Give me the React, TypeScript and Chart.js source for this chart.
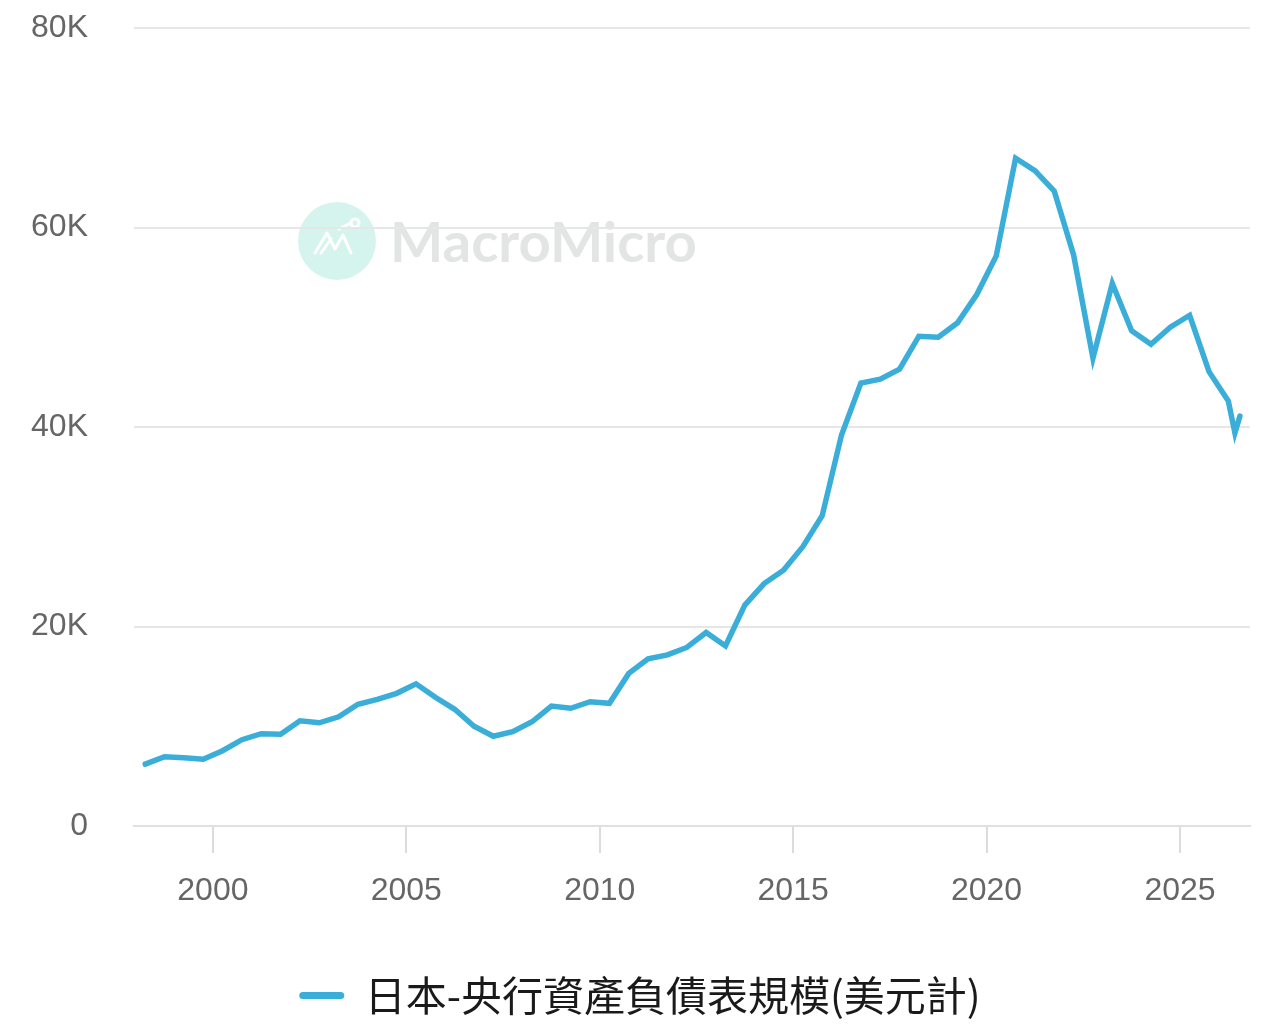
import React, { useEffect, useRef } from "react";
import { Chart, registerables } from "chart.js";

Chart.register(...registerables);

// x positions in decimal years
const xYears = [
  1998.25, 1998.75, 1999.25, 1999.75, 2000.25, 2000.75, 2001.25, 2001.75,
  2002.25, 2002.75, 2003.25, 2003.75, 2004.25, 2004.75, 2005.25, 2005.75,
  2006.25, 2006.75, 2007.25, 2007.75, 2008.25, 2008.75, 2009.25, 2009.75,
  2010.25, 2010.75, 2011.25, 2011.75, 2012.25, 2012.75, 2013.25, 2013.75,
  2014.25, 2014.75, 2015.25, 2015.75, 2016.25, 2016.75, 2017.25, 2017.75,
  2018.25, 2018.75, 2019.25, 2019.75, 2020.25, 2020.75, 2021.25, 2021.75,
  2022.25, 2022.75, 2023.25, 2023.75, 2024.25, 2024.75, 2025.25, 2025.75,
  2026.25, 2026.42, 2026.55,
];

// Japan central bank balance sheet size (USD)
const balanceSheet = [
  6200, 6950, 6850, 6700, 7550, 8650, 9250, 9200,
  10550, 10350, 10950, 12200, 12700, 13300, 14250, 12900,
  11700, 10000, 9000, 9450, 10450, 12030, 11800, 12460,
  12300, 15300, 16750, 17150, 17900, 19400, 18050, 22150,
  24300, 25650, 28000, 31100, 39200, 44400, 44800, 45800,
  49100, 49000, 50450, 53300, 57150, 66950, 65700, 63650,
  57250, 46900, 54400, 49650, 48300, 50000, 51200, 45550,
  42600, 39400, 41100,
];

const xTickYears = [2000, 2005, 2010, 2015, 2020, 2025];
const yTickValues = [0, 20000, 40000, 60000, 80000];
const seriesLabel = "日本-央行資產負債表規模(美元計)";
const watermarkText = "MacroMicro";

const LINE_COLOR = "#3aaed9";
const TICK_FONT = "'Liberation Sans', Arial, Helvetica, sans-serif";

const watermarkPlugin = {
  id: "watermark",
  beforeDraw(chart: any) {
    const ctx = chart.ctx;
    ctx.save();
    // circle logo
    const cx = 337, cy = 241, r = 39;
    ctx.fillStyle = "#d6f4ee";
    ctx.beginPath();
    ctx.arc(cx, cy, r, 0, Math.PI * 2);
    ctx.fill();
    ctx.strokeStyle = "#ffffff";
    ctx.lineWidth = 3;
    ctx.lineJoin = "round";
    ctx.lineCap = "round";
    ctx.beginPath();
    ctx.moveTo(cx - 22, cy + 12);
    ctx.lineTo(cx - 10, cy - 8);
    ctx.lineTo(cx - 2, cy + 8);
    ctx.lineTo(cx + 6, cy - 6);
    ctx.lineTo(cx + 14, cy + 12);
    ctx.stroke();
    ctx.beginPath();
    ctx.moveTo(cx - 16, cy + 12);
    ctx.lineTo(cx - 6, cy - 2);
    ctx.stroke();
    ctx.beginPath();
    ctx.moveTo(cx + 2, cy - 12);
    ctx.lineTo(cx + 14, cy - 18);
    ctx.stroke();
    ctx.beginPath();
    ctx.arc(cx + 18, cy - 18, 4, 0, Math.PI * 2);
    ctx.stroke();
    // text
    ctx.fillStyle = "#e3e5e5";
    ctx.textBaseline = "alphabetic";
    ctx.textAlign = "left";
    ctx.font = "bold 100px Lato, 'Open Sans', sans-serif";
    const w100 = ctx.measureText(watermarkText).width;
    const size = (307 / w100) * 100;
    ctx.font = `bold ${size}px Lato, 'Open Sans', sans-serif`;
    ctx.fillText(watermarkText, 390, 262);
    ctx.restore();
  },
};

export default function App() {
  const canvasRef = useRef<HTMLCanvasElement | null>(null);

  useEffect(() => {
    if (!canvasRef.current) return;
    const data = xYears.map((x, i) => ({ x, y: balanceSheet[i] }));
    const chart = new Chart(canvasRef.current, {
      type: "line",
      data: {
        datasets: [
          {
            label: seriesLabel,
            data,
            borderColor: LINE_COLOR,
            backgroundColor: LINE_COLOR,
            borderWidth: 5.5,
            pointRadius: 0,
            pointHoverRadius: 0,
            tension: 0,
            borderCapStyle: "round",
            fill: false,
          },
        ],
      },
      options: {
        animation: false,
        responsive: true,
        maintainAspectRatio: false,
        devicePixelRatio: 1,
        layout: { padding: { left: 30, right: 30, top: 28, bottom: 0 } },
        plugins: {
          tooltip: { enabled: false },
          legend: {
            position: "bottom",
            labels: {
              boxWidth: 45,
              boxHeight: 7,
              padding: 10,
              color: "#1a1a1a",
              font: { size: 41, family: "'Noto Sans CJK TC', 'Noto Sans', sans-serif" },
              generateLabels: (chart: any) =>
                chart.data.datasets.map((ds: any, i: number) => ({
                  text: ds.label,
                  fillStyle: ds.borderColor,
                  strokeStyle: ds.borderColor,
                  lineWidth: 0,
                  hidden: false,
                  datasetIndex: i,
                  borderRadius: 3.5,
                  fontColor: "#1a1a1a",
                })),
              useBorderRadius: true,
            },
          },
        },
        scales: {
          x: {
            type: "linear",
            min: 1997.96,
            max: 2026.81,
            afterBuildTicks: (scale: any) => {
              scale.ticks = xTickYears.map((v) => ({ value: v }));
            },
            afterFit: (scale: any) => {
              scale.height = 139;
            },
            ticks: {
              color: "#666666",
              font: { size: 32, family: TICK_FONT },
              padding: 19,
              maxRotation: 0,
              autoSkip: false,
              callback: (v: any) => String(v),
            },
            grid: {
              display: true,
              drawOnChartArea: false,
              drawTicks: true,
              tickLength: 27,
              color: "#dcdcdc",
              lineWidth: 2,
            },
            border: { display: true, color: "#e0e0e0", width: 2 },
          },
          y: {
            min: 0,
            max: 80000,
            afterBuildTicks: (scale: any) => {
              scale.ticks = yTickValues.map((v) => ({ value: v }));
            },
            afterFit: (scale: any) => {
              scale.width = 104;
              scale.paddingTop = 0;
              scale.paddingBottom = 0;
            },
            ticks: {
              color: "#666666",
              font: { size: 32, family: TICK_FONT },
              padding: 46,
              callback: (v: any) => (v === 0 ? "0" : `${v / 1000}K`),
            },
            grid: {
              color: "#e6e6e6",
              lineWidth: 2,
              drawTicks: false,
            },
            border: { display: false },
          },
        },
      },
      plugins: [watermarkPlugin],
    } as any);
    return () => chart.destroy();
  }, []);

  return (
    <div
      style={{
        position: "fixed",
        left: 0,
        top: 0,
        width: 1280,
        height: 1026,
        background: "#ffffff",
      }}
    >
      <canvas ref={canvasRef} />
    </div>
  );
}
